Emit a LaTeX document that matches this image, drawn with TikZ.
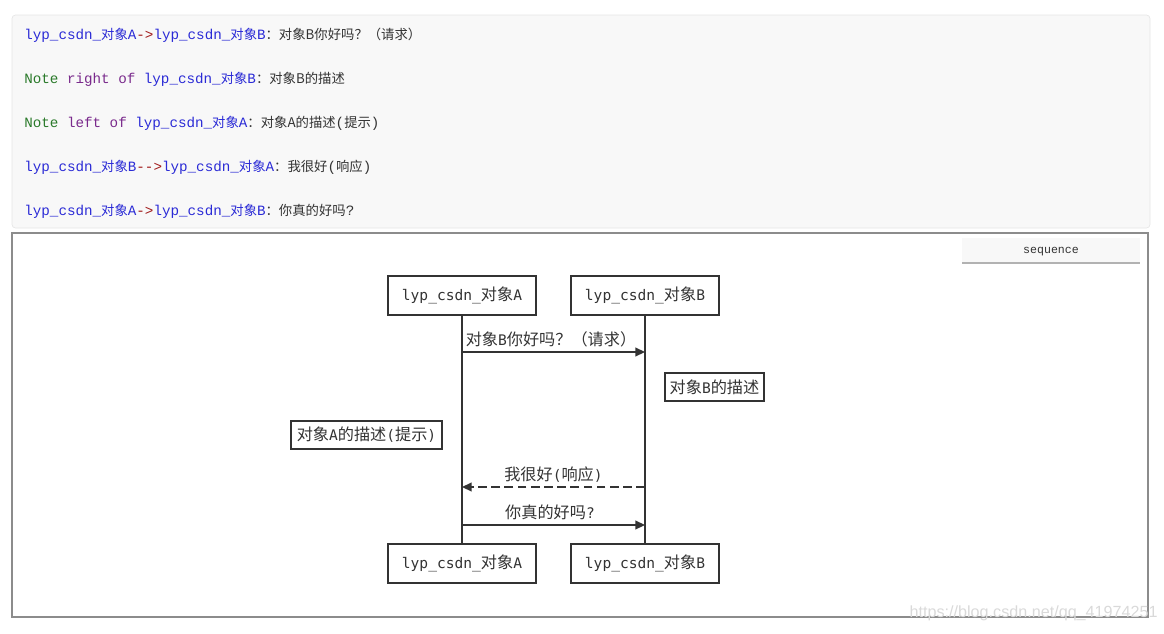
\documentclass[tikz,border=0pt]{standalone}
\usepackage{fontspec}
\usepackage{xcolor}
\usepackage{tikz}
\usetikzlibrary{arrows.meta, positioning}

\setmonofont{DejaVu Sans Mono}
\newfontfamily\cjkfont{Noto Sans CJK SC}
\newfontfamily\codefont{Liberation Mono}
\newfontfamily\markfont{Liberation Sans}
% CJK in the code block and in the diagram
\newcommand{\cjk}[1]{{\cjkfont\fontsize{7.6}{9}\selectfont #1}}
\newcommand{\dcjk}[1]{{\cjkfont\fontsize{9.2}{11}\selectfont #1}}

\definecolor{ink}{HTML}{333333}
\definecolor{cmvar}{HTML}{2B2BD6}
\definecolor{cmop}{HTML}{A11A1A}
\definecolor{cmnote}{HTML}{2A7A2A}
\definecolor{cmkey}{HTML}{7A2A8C}
\definecolor{codebg}{HTML}{F8F8F8}
\definecolor{codeedge}{HTML}{E6E6E6}

\begin{document}
\begin{tikzpicture}[
  x=0.02cm, y=-0.02cm,
  codeline/.style={anchor=west, inner sep=0pt, text=ink, font=\codefont\fontsize{8.1}{9}\selectfont},
  actor/.style={draw=ink, line width=1.1pt, minimum width=2.96cm, minimum height=0.78cm, inner sep=0pt, text=ink, font=\ttfamily\fontsize{8.3}{10}\selectfont},
  note/.style={draw=ink, line width=1.1pt, minimum height=0.56cm, inner sep=0pt, text=ink, font=\ttfamily\fontsize{8.3}{10}\selectfont},
  life/.style={ink, line width=1.1pt},
  msg/.style={ink, line width=0.9pt, -{Triangle[length=5.5pt, width=5pt]}},
  lbl/.style={anchor=base, inner sep=0pt, text=ink, font=\ttfamily\fontsize{8.3}{10}\selectfont}
]
\useasboundingbox (0,0) rectangle (1164,633);

% code block
\draw[draw=codeedge, fill=codebg, rounded corners=2pt] (12,15) rectangle (1150,228);
\node[codeline] (c1) at (24,35) {\textcolor{cmvar}{lyp\_csdn\_\cjk{对象}A}\textcolor{cmop}{->}\textcolor{cmvar}{lyp\_csdn\_\cjk{对象}B}\cjk{：对象B你好吗？（请求）}};
\node[codeline] (c2) at (24,79) {\textcolor{cmnote}{Note} \textcolor{cmkey}{right of} \textcolor{cmvar}{lyp\_csdn\_\cjk{对象}B}\cjk{：对象B的描述}};
\node[codeline] (c3) at (24,123) {\textcolor{cmnote}{Note} \textcolor{cmkey}{left of} \textcolor{cmvar}{lyp\_csdn\_\cjk{对象}A}\cjk{：对象A的描述}(\cjk{提示})};
\node[codeline] (c4) at (24,167) {\textcolor{cmvar}{lyp\_csdn\_\cjk{对象}B}\textcolor{cmop}{-->}\textcolor{cmvar}{lyp\_csdn\_\cjk{对象}A}\cjk{：我很好}(\cjk{响应})};
\node[codeline] (c5) at (24,211) {\textcolor{cmvar}{lyp\_csdn\_\cjk{对象}A}\textcolor{cmop}{->}\textcolor{cmvar}{lyp\_csdn\_\cjk{对象}B}\cjk{：你真的好吗}?};

% diagram frame
\draw[draw=black!45, line width=0.6pt] (12,233) rectangle (1148,617);
\fill[codebg] (962,238) rectangle (1140,263);
\draw[black!30, line width=0.8pt] (962,263) -- (1140,263);
\node[inner sep=0pt, text=ink, font=\codefont\fontsize{6.6}{8}\selectfont] (seq) at (1051,252) {sequence};

% actors
\node[actor] (actA) at (462,295.5) {lyp\_csdn\_\dcjk{对象}A};
\node[actor] (actB) at (645,295.5) {lyp\_csdn\_\dcjk{对象}B};
\node[actor] (actAbot) at (462,563.5) {lyp\_csdn\_\dcjk{对象}A};
\node[actor] (actBbot) at (645,563.5) {lyp\_csdn\_\dcjk{对象}B};
\draw[life] (actA.south) -- (actAbot.north);
\draw[life] (actB.south) -- (actBbot.north);

% notes
\node[note, minimum width=1.98cm] (noteB) at (714.5,387) {\dcjk{对象}B\dcjk{的描述}};
\node[note, minimum width=3.02cm] (noteA) at (366.5,435) {\dcjk{对象}A\dcjk{的描述}(\dcjk{提示})};

% messages
\coordinate (a1) at (actA |- 0,352);
\coordinate (b1) at (actB |- 0,352);
\coordinate (a2) at (actA |- 0,487);
\coordinate (b2) at (actB |- 0,487);
\coordinate (a3) at (actA |- 0,525);
\coordinate (b3) at (actB |- 0,525);
\draw[msg] (a1) -- (b1);
\draw[msg, dash pattern=on 5pt off 2.5pt] (b2) -- (a2);
\draw[msg] (a3) -- (b3);
\node[lbl] (t1) at (551,345.5) {\dcjk{对象}B\dcjk{你好吗？（请求）}};
\node[lbl] (t2) at (553.5,480.5) {\dcjk{我很好}(\dcjk{响应})};
\node[lbl] (t3) at (550,518.5) {\dcjk{你真的好吗}?};

% watermark
\node[anchor=east, inner sep=0pt, text=black!15, font=\markfont\fontsize{9.2}{10}\selectfont] (mark) at (1158,613) {https://blog.csdn.net/qq\_41974251};
\end{tikzpicture}
\end{document}
